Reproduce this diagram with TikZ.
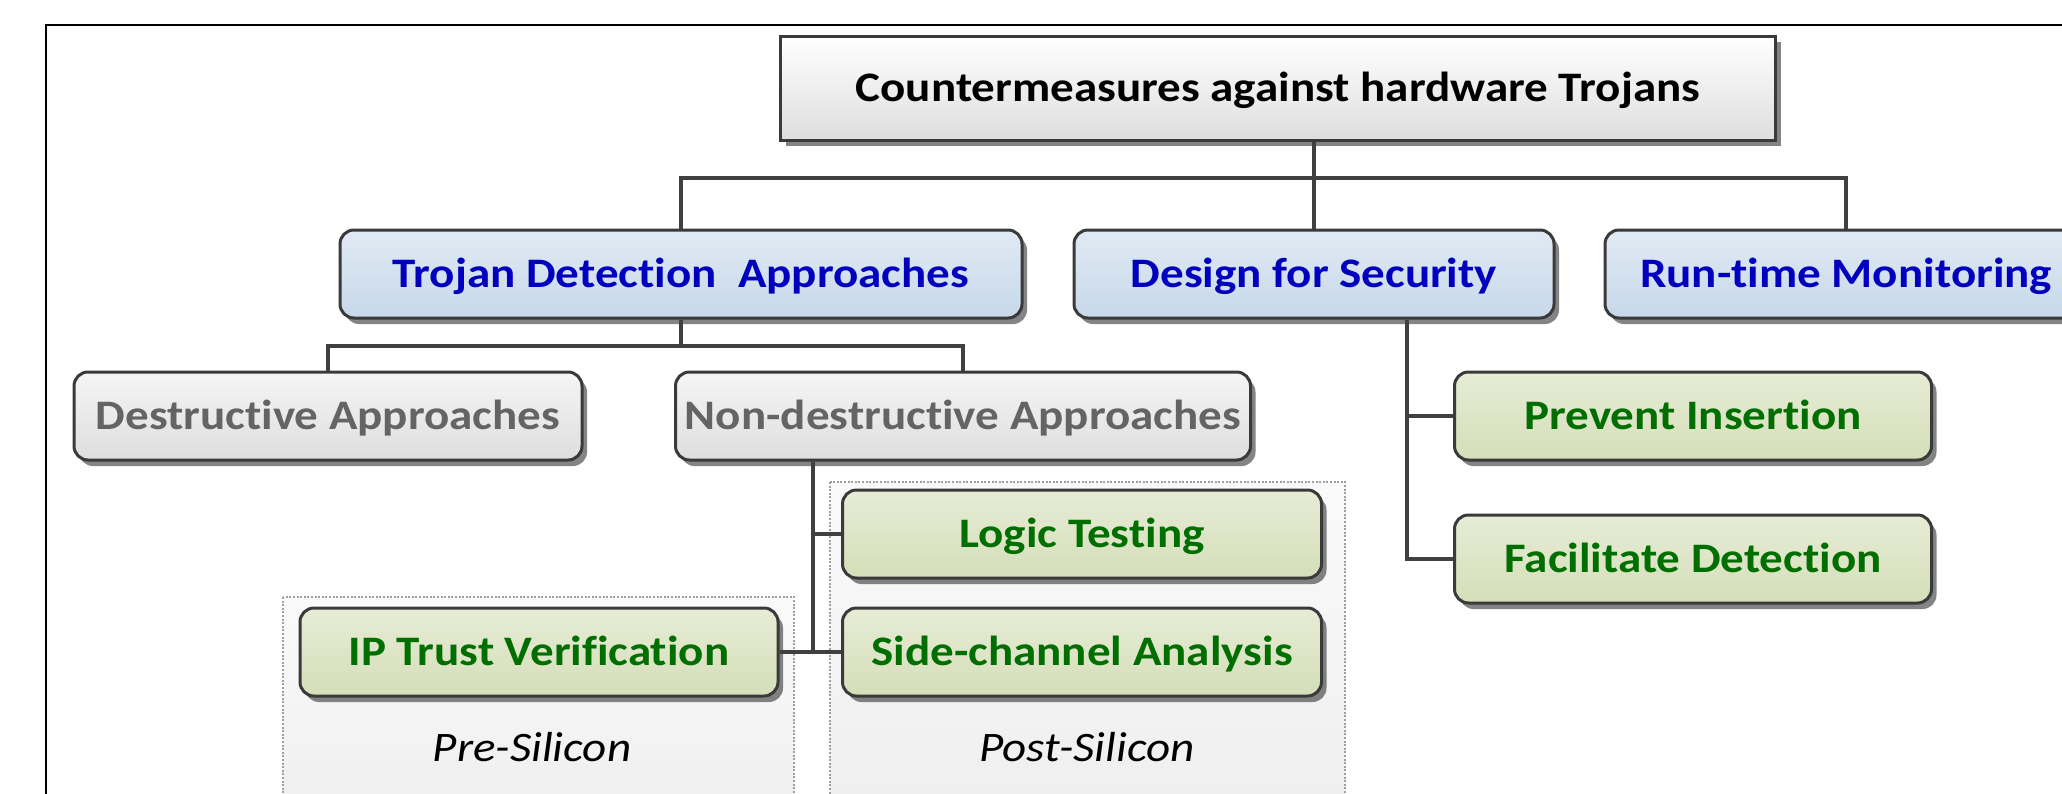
\documentclass[tikz,border=0pt]{standalone}
\usepackage{fontspec}
\setmainfont{Carlito}[FakeStretch=1.12, Ligatures=NoCommon]
\usetikzlibrary{shadows}
\definecolor{tblue}{RGB}{0,0,190}
\definecolor{tgreen}{RGB}{0,110,0}
\definecolor{tgrey}{RGB}{100,100,100}
\definecolor{edgec}{RGB}{58,58,58}
\definecolor{linec}{RGB}{64,64,64}
\definecolor{bluetop}{RGB}{224,234,244}
\definecolor{bluebot}{RGB}{199,216,233}
\definecolor{greentop}{RGB}{231,236,214}
\definecolor{greenbot}{RGB}{212,222,184}
\definecolor{greytop}{RGB}{245,245,245}
\definecolor{greybot}{RGB}{222,222,222}
\definecolor{grouptop}{RGB}{250,250,250}
\definecolor{groupbot}{RGB}{238,238,238}
\newcommand\boxfont{\bfseries\fontsize{21}{25}\selectfont}
\newcommand\labfont{\itshape\fontsize{21}{25}\selectfont}
\tikzset{
  basebox/.style={draw=edgec, line width=1.5pt, inner sep=0pt, minimum height=44pt,
    text height=13.5pt, text depth=0pt,
    font=\boxfont, drop shadow={shadow xshift=2.5pt, shadow yshift=-3pt, fill=black!80, opacity=0.6}},
  rbox/.style={basebox, rounded corners=7pt},
  bluebox/.style={rbox, top color=bluetop, bottom color=bluebot, text=tblue},
  greenbox/.style={rbox, top color=greentop, bottom color=greenbot, text=tgreen},
  greybox/.style={rbox, top color=greytop, bottom color=greybot, text=tgrey},
  topbox/.style={basebox, top color=white, bottom color=greybot, text=black, minimum height=52pt},
  groupbox/.style={draw=gray!75, line width=0.6pt, dash pattern=on 1pt off 0.8pt, top color=grouptop, bottom color=groupbot},
  conn/.style={draw=linec, line width=1.6pt},
  lab/.style={font=\labfont, text=black, inner sep=0pt, text height=13.5pt, text depth=0pt}
}
\begin{document}
\begin{tikzpicture}[x=0.5pt,y=-0.5pt]
\useasboundingbox (0,0) rectangle (2062,793);
\clip (0,0) rectangle (2062,793);
\fill[white] (0,0) rectangle (2062,793);
% outer frame
\draw[black, line width=1pt] (46,820) -- (46,25) -- (2100,25);
% group boxes
\draw[groupbox] (283,597) rectangle (794,830);
\draw[groupbox] (830,482) rectangle (1345,830);
\node[lab] (pre) at (532,748) {Pre-Silicon};
\node[lab] (post) at (1087,748) {Post-Silicon};
% boxes
\node[topbox, minimum width=497.5pt] (top) at (1278,88) {Countermeasures against hardware Trojans};
\node[bluebox, minimum width=341pt] (tda) at (681,274) {Trojan Detection~~Approaches};
\node[bluebox, minimum width=240pt] (dfs) at (1314,274) {Design for Security};
\node[bluebox, minimum width=241pt] (rtm) at (1846,274) {Run-time Monitoring};
\node[greybox, minimum width=254pt] (destr) at (328,416) {Destructive Approaches};
\node[greybox, minimum width=287.5pt] (nda) at (963,416) {Non-destructive Approaches};
\node[greenbox, minimum width=239.5pt] (lt) at (1082,534) {Logic Testing};
\node[greenbox, minimum width=239.5pt] (sca) at (1082,652) {Side-channel Analysis};
\node[greenbox, minimum width=239pt] (ip) at (539,652) {IP Trust Verification};
\node[greenbox, minimum width=238.5pt] (pi) at (1693,416) {Prevent Insertion};
\node[greenbox, minimum width=238.5pt] (fd) at (1693,559) {Facilitate Detection};
% connector helpers
\coordinate (hubA) at (0,178);
\coordinate (hubB) at (0,346);
\coordinate (vA) at (813,0);
\coordinate (vB) at (1407,0);
% connectors
\draw[conn] (dfs.north) -- (dfs.north |- top.south);
\draw[conn] (tda.north) -- (tda.north |- hubA) -- (rtm.north |- hubA) -- (rtm.north);
\draw[conn] (tda.south) -- (tda.south |- hubB);
\draw[conn] (destr.north) -- (destr.north |- hubB) -- (nda.north |- hubB) -- (nda.north);
\draw[conn] (vA |- nda.south) -- (vA |- sca.west);
\draw[conn] (vA |- lt.west) -- (lt.west);
\draw[conn] (ip.east) -- (sca.west);
\draw[conn] (vB |- dfs.south) -- (vB |- fd.west) -- (fd.west);
\draw[conn] (vB |- pi.west) -- (pi.west);
\end{tikzpicture}
\end{document}
